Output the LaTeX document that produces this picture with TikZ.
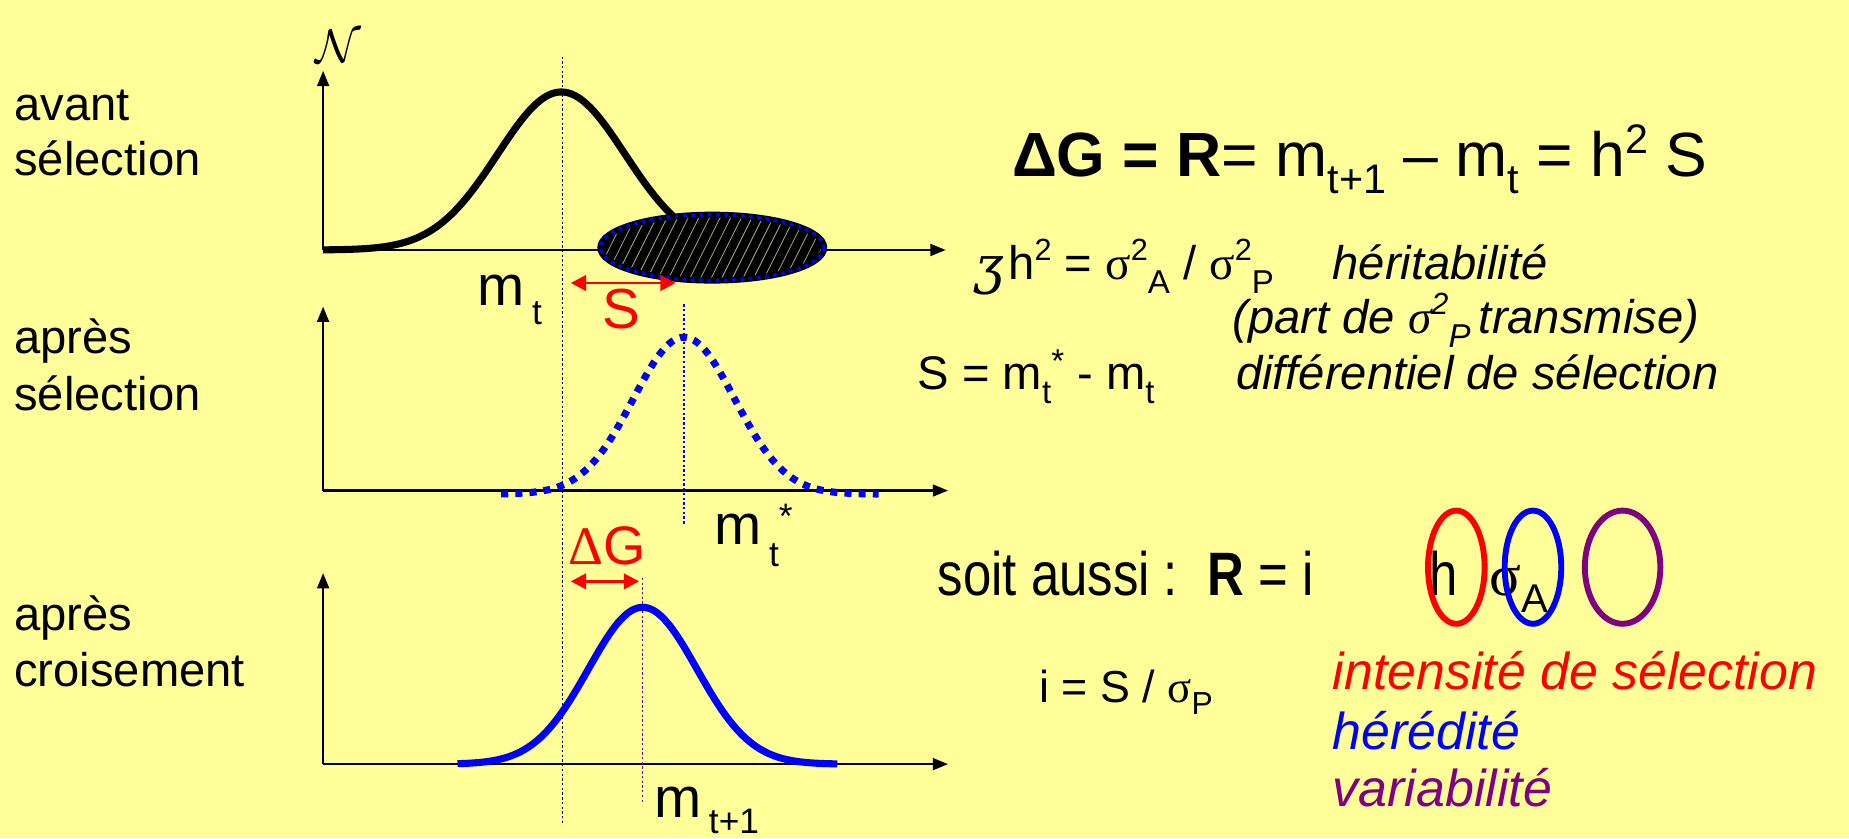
\documentclass[tikz,border=0pt]{standalone}
\usepackage{fontspec}
\usepackage{graphicx}
\setmainfont{Liberation Sans}
\newfontfamily\grk{Liberation Serif}
\newfontfamily\zfont{DejaVu Serif}
\newfontfamily\narrowfont[FakeStretch=0.83]{Liberation Sans}
\usetikzlibrary{arrows.meta}
\definecolor{bg}{HTML}{FFFF99}
\definecolor{myred}{HTML}{FF0000}
\definecolor{myblue}{HTML}{0000FF}
\definecolor{mypurple}{HTML}{800080}
\definecolor{hatch}{HTML}{A8A870}
\newcommand{\fs}[1]{\fontsize{#1}{#1}\selectfont}
\newcommand{\lo}[3]{\raisebox{#1pt}{\fs{#2}#3}}
\begin{document}
\begin{tikzpicture}[x=1pt,y=-1pt,
  axis/.style={line width=2pt,-{Triangle[length=13pt,width=10pt]}},
  vguide/.style={line width=1.2pt,dash pattern=on 2pt off 2pt},
  lbl/.style={anchor=base west,inner sep=0pt,font=\fs{40}},
  dbl/.style={myred,line width=2.5pt,{Triangle[length=13pt,width=13pt]}-{Triangle[length=13pt,width=13pt]}},
  ring/.style={line width=5pt}]
\fill[bg] (0,0) rectangle (1568,711);
\useasboundingbox (0,0) rectangle (1568,711);

% left labels
\node[lbl] (l1a) at (12,102) {avant};
\node[lbl] (l1b) at (12,149) {sélection};
\node[lbl] (l2a) at (12,300) {après};
\node[lbl] (l2b) at (12,348) {sélection};
\node[lbl] (l3a) at (12,535) {après};
\node[lbl] (l3b) at (12,582) {croisement};

% axes
\coordinate (o1) at (274,212); \coordinate (y1) at (274,60); \coordinate (x1) at (802,212);
\coordinate (o2) at (274,416); \coordinate (y2) at (274,260); \coordinate (x2) at (804,416);
\coordinate (o3) at (274,648); \coordinate (y3) at (274,486); \coordinate (x3) at (804,648);
\draw[axis] (o1) -- (y1);
\draw[axis] (o1) -- (x1);
\draw[axis] (o2) -- (y2);
\draw[axis] (o2) -- (x2);
\draw[axis] (o3) -- (y3);
\draw[axis] (o3) -- (x3);
\node[inner sep=0pt] (N) at (287,39) {\scalebox{4}{$\mathcal{N}$}};

% guides
\coordinate (g1a) at (477,48); \coordinate (g1b) at (477,700);
\coordinate (g2a) at (580,258); \coordinate (g2b) at (580,445);
\coordinate (g3a) at (545,490); \coordinate (g3b) at (545,680);
\draw[vguide,black] (g1a) -- (g1b);
\draw[vguide,myblue] (g2a) -- (g2b);
\draw[vguide,mypurple] (g3a) -- (g3b);

% curves
\draw[line width=6pt] plot[domain=274:600,samples=100] (\x,{212-134*exp(-0.5*((\x-476)/54)^2)});
\begin{scope}
\clip (604,210) ellipse [x radius=95,y radius=28];
\fill[black] (500,170) rectangle (710,250);
\foreach \k in {0,...,28} \draw[hatch,line width=0.7pt] (470+\k*9,250) -- ++(40,-80);
\end{scope}
\draw[black,line width=5pt] (604,210) ellipse [x radius=95,y radius=28];
\draw[myblue,line width=3pt,dash pattern=on 3pt off 4pt] (604,210) ellipse [x radius=95,y radius=28];

\draw[myblue,line width=6pt,dash pattern=on 6pt off 6pt] plot[domain=425:745,samples=140] (\x,{419-133*exp(-0.5*((\x-580)/43)^2)});
\draw[myblue,line width=6pt] plot[domain=388:710,samples=140] (\x,{648-133*exp(-0.5*((\x-545)/46)^2)});

% arrows S and dG
\coordinate (s1) at (484,240); \coordinate (s2) at (573,240);
\draw[dbl] (s1) -- (s2);
\coordinate (d1) at (484,493); \coordinate (d2) at (542,493);
\draw[dbl] (d1) -- (d2);

% graph labels
\node[lbl,font=\fs{48}] (mt) at (405,259) {m\hspace{6pt}\lo{-16}{30}{t}};
\node[lbl,font=\fs{48},text=myred] (S) at (511,279) {S};
\node[lbl,font=\fs{48}] (mts) at (606,462) {m\hspace{6pt}\lo{-18}{30}{t}\lo{14}{30}{*}};
\node[lbl,font=\fs{46},text=myred] (dG) at (482,479) {{\grk Δ}G};
\node[lbl,font=\fs{48}] (mt1) at (555,693) {m\hspace{6pt}\lo{-14}{30}{t+1}};

% right formulas
\node[lbl,font=\fs{53}] (f1) at (858,150) {\textbf{ΔG = R}= m\lo{-14}{35}{t+1} – m\lo{-14}{35}{t} = h\lo{20}{35}{2} S};
\node[lbl,font=\fs{44}] (z) at (826,240) {\zfont\itshape ʒ};
\node[lbl] (h2) at (855,237) {h\lo{16}{26}{2} = {\grk σ}\lo{16}{26}{2}\lo{-12}{28}{A} / {\grk σ}\lo{16}{26}{2}\lo{-12}{28}{P}};
\node[lbl,font=\fs{40}\itshape] (her) at (1130,237) {héritabilité};
\node[lbl,font=\fs{40}\itshape] (part) at (1045,283) {(part de {\grk\itshape σ}\lo{16}{26}{2}\lo{-12}{28}{P}\hspace{-4pt} transmise)};
\node[lbl] (sdef) at (778,330) {S = m\lo{-12}{28}{t}\lo{14}{28}{*} - m\lo{-12}{28}{t}};
\node[lbl,font=\fs{40}\itshape] (diff) at (1048,330) {différentiel de sélection};

\node[lbl,font=\fs{52}\narrowfont] (soit) at (795,505) {soit aussi :};
\node[lbl,font=\fs{52}\narrowfont] (req) at (1024,505) {\textbf{R} = i};
\node[lbl,font=\fs{52}\narrowfont] (hh) at (1212,505) {h};
\node[lbl,font=\fs{50}] (sa) at (1263,505) {{\grk σ}\lo{-14}{34}{A}};
\draw[ring,myred] (1235,481) ellipse [x radius=24,y radius=48];
\draw[ring,myblue] (1300,481) ellipse [x radius=24,y radius=48];
\draw[ring,mypurple] (1376,481) ellipse [x radius=32,y radius=48];

\node[lbl,font=\fs{38}] (idef) at (881,596) {i = S / {\grk σ}\lo{-10}{27}{P}};
\node[lbl,font=\fs{44}\itshape,text=myred] (int) at (1130,585) {intensité de sélection};
\node[lbl,font=\fs{44}\itshape,text=myblue] (hered) at (1130,636) {hérédité};
\node[lbl,font=\fs{44}\itshape,text=mypurple] (var) at (1130,684) {variabilité};
\end{tikzpicture}
\end{document}
